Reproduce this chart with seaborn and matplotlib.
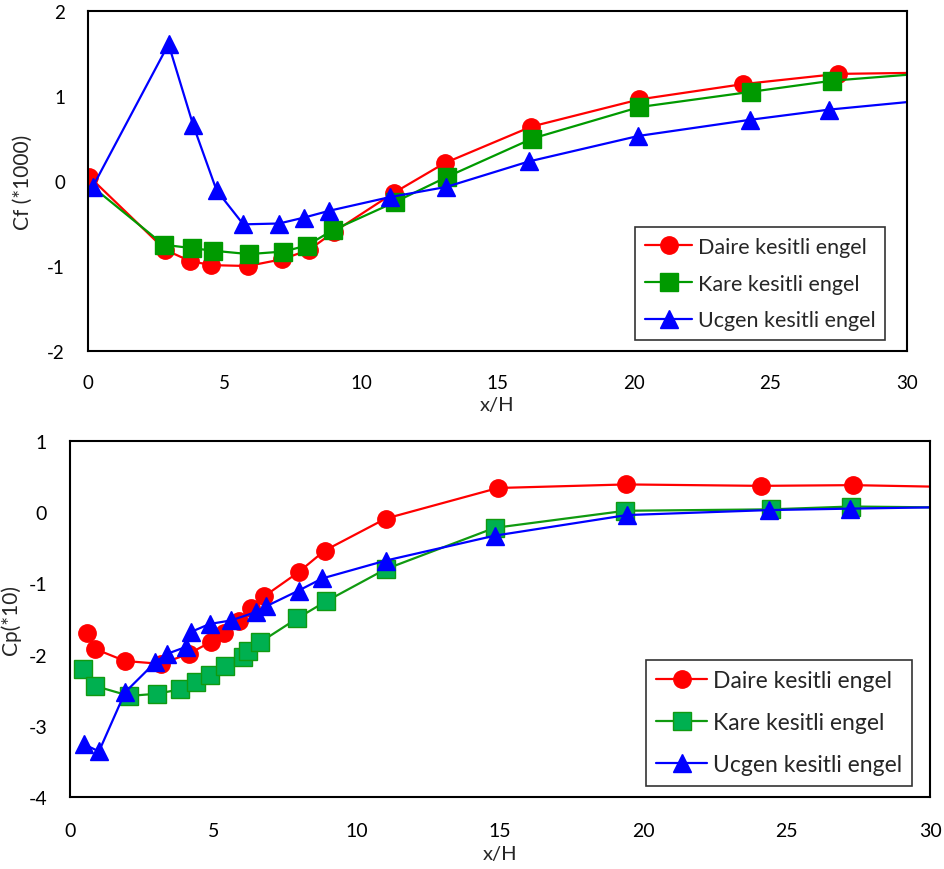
import matplotlib
matplotlib.use("Agg")
import matplotlib.pyplot as plt
import seaborn as sns
import numpy as np

# ---------------- data ----------------
series_names = ["Daire kesitli engel", "Kare kesitli engel", "Ucgen kesitli engel"]

# Top chart: Cf (*1000)
cf_daire_x = [0.05, 2.83, 3.72, 4.52, 5.86, 7.12, 8.10, 9.00, 11.20, 13.06, 16.24, 20.20, 24.00, 27.46, 32.0]
cf_daire_y = [0.05, -0.81, -0.94, -0.99, -1.00, -0.92, -0.81, -0.60, -0.14, 0.21, 0.64, 0.96, 1.14, 1.26, 1.28]
cf_kare_x = [0.17, 2.77, 3.81, 4.58, 5.89, 7.16, 8.01, 8.96, 11.23, 13.16, 16.28, 20.20, 24.30, 27.26, 32.0]
cf_kare_y = [-0.07, -0.75, -0.79, -0.82, -0.86, -0.83, -0.76, -0.58, -0.25, 0.05, 0.50, 0.87, 1.05, 1.18, 1.30]
cf_ucgen_x = [0.17, 2.95, 3.85, 4.71, 5.69, 7.00, 7.92, 8.84, 11.05, 13.12, 16.15, 20.16, 24.25, 27.15, 32.0]
cf_ucgen_y = [-0.07, 1.61, 0.66, -0.11, -0.51, -0.50, -0.43, -0.35, -0.19, -0.07, 0.23, 0.53, 0.72, 0.84, 0.99]

# Bottom chart: Cp (*10)
cp_daire_x = [0.61, 0.87, 1.92, 3.17, 4.14, 4.92, 5.38, 5.89, 6.32, 6.78, 7.98, 8.88, 11.01, 14.93, 19.40, 24.10, 27.30, 32.0]
cp_daire_y = [-1.69, -1.92, -2.09, -2.13, -1.99, -1.82, -1.69, -1.53, -1.34, -1.18, -0.84, -0.54, -0.09, 0.34, 0.39, 0.37, 0.38, 0.345]
cp_kare_x = [0.44, 0.87, 2.07, 3.03, 3.82, 4.41, 4.90, 5.42, 6.04, 6.20, 6.62, 7.93, 8.94, 11.01, 14.81, 19.37, 24.44, 27.26, 32.0]
cp_kare_y = [-2.20, -2.44, -2.58, -2.55, -2.49, -2.39, -2.29, -2.16, -2.03, -1.95, -1.83, -1.49, -1.25, -0.80, -0.22, 0.02, 0.04, 0.08, 0.06]
cp_ucgen_x = [0.49, 1.01, 1.92, 2.97, 3.38, 4.06, 4.23, 4.87, 5.62, 6.50, 6.85, 7.98, 8.80, 11.01, 14.81, 19.43, 24.40, 27.20, 32.0]
cp_ucgen_y = [-3.26, -3.36, -2.53, -2.11, -1.99, -1.89, -1.68, -1.57, -1.52, -1.40, -1.32, -1.10, -0.93, -0.68, -0.33, -0.04, 0.03, 0.05, 0.08]

x_ticks = [0, 5, 10, 15, 20, 25, 30]
cf_ticks = [-2, -1, 0, 1, 2]
cp_ticks = [-4, -3, -2, -1, 0, 1]

# ---------------- style ----------------
sns.set_style("white")
plt.rcParams["font.family"] = ["Lato", "DejaVu Sans"]
plt.rcParams["axes.unicode_minus"] = False

RED = "#FF0000"
GREEN_TOP = "#009A00"
GREEN_FILL = "#00B050"
GREEN_EDGE = "#109A10"
BLUE = "#0000FF"

fig = plt.figure(figsize=(9.44, 8.70), dpi=100)
ax1 = fig.add_axes([88/944, 1-352/870, (907-88)/944, (352-12)/870])
ax2 = fig.add_axes([70/944, 1-798/870, (930-70)/944, (798-442)/870])

MS = 12.5
LW = 1.6


def draw(ax, xs, ys, color, marker, mfc, mec, label, skip_first=False):
    n = len(xs)
    idx = list(range(1 if skip_first else 0, n - 1))
    sns.lineplot(x=xs, y=ys, ax=ax, color=color, marker=marker, markersize=MS,
                 markerfacecolor=mfc, markeredgecolor=mec, markeredgewidth=1.0,
                 linewidth=LW, label=label, sort=False, markevery=idx)


# Top chart
draw(ax1, cf_daire_x, cf_daire_y, RED, "o", RED, RED, series_names[0])
draw(ax1, cf_kare_x, cf_kare_y, GREEN_TOP, "s", GREEN_TOP, GREEN_TOP, series_names[1], skip_first=True)
draw(ax1, cf_ucgen_x, cf_ucgen_y, BLUE, "^", BLUE, BLUE, series_names[2])

# Bottom chart
draw(ax2, cp_daire_x, cp_daire_y, RED, "o", RED, RED, series_names[0])
draw(ax2, cp_kare_x, cp_kare_y, GREEN_EDGE, "s", GREEN_FILL, GREEN_EDGE, series_names[1])
draw(ax2, cp_ucgen_x, cp_ucgen_y, BLUE, "^", BLUE, BLUE, series_names[2])

for ax, yt, ylim, tfs in [(ax1, cf_ticks, (-2, 2), 13.5), (ax2, cp_ticks, (-4, 1), 14)]:
    ax.set_xlim(0, 30)
    ax.set_ylim(*ylim)
    ax.set_xticks(x_ticks)
    ax.set_yticks(yt)
    ax.tick_params(axis="both", length=0, labelsize=tfs, colors="#000000")
    ax.tick_params(axis="y", pad=16.5)
    ax.tick_params(axis="x", pad=16.5 if ax is ax1 else 18)
    for s in ax.spines.values():
        s.set_visible(True)
        s.set_color("#000000")
        s.set_linewidth(1.5)
    ax.grid(False)

ax1.set_xlabel("x/H", fontsize=14.5, labelpad=4)
ax2.set_xlabel("x/H", fontsize=14.5, labelpad=4)
ax1.set_ylabel("Cf (*1000)", fontsize=15)
ax2.set_ylabel("Cp(*10)", fontsize=15)
ax1.yaxis.set_label_coords(-0.067, 0.5)
ax2.yaxis.set_label_coords(-0.057, 0.5)

leg1 = ax1.legend(loc="lower right", bbox_to_anchor=(0.973, 0.032), borderaxespad=0,
                  fontsize=15.5, frameon=True, fancybox=False, edgecolor="#000000",
                  handlelength=2.2, handletextpad=0.25, labelspacing=0.78, borderpad=0.45)
leg1.get_frame().set_linewidth(1.2)
leg2 = ax2.legend(loc="lower right", bbox_to_anchor=(0.979, 0.032), borderaxespad=0,
                  fontsize=16.5, frameon=True, fancybox=False, edgecolor="#000000",
                  handlelength=2.2, handletextpad=0.25, labelspacing=0.92, borderpad=0.45)
leg2.get_frame().set_linewidth(1.2)

fig.savefig("out.png", dpi=100)
